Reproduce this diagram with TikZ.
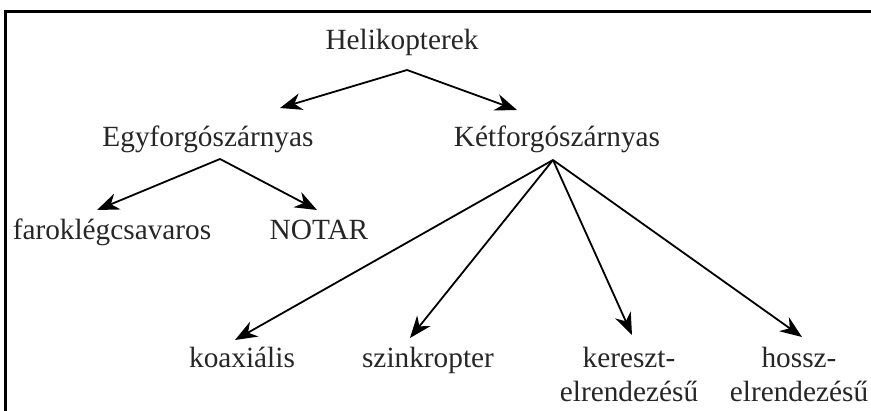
\documentclass[tikz,border=0pt]{standalone}
\usepackage{fontspec}
\setmainfont{Liberation Serif}
\usetikzlibrary{arrows.meta,calc}
\begin{document}
\begin{tikzpicture}[x=1pt,y=-1pt,
  lbl/.style={anchor=base,inner sep=0pt,align=center,
    font=\fontsize{29.3}{34}\selectfont,text=black!85},
  arr/.style={line width=1.8pt,-{Stealth[length=22pt,width=17pt,inset=7pt]}}]
\useasboundingbox (0,0) rectangle (871,411);
\begin{scope}
\clip (0,0) rectangle (871,411);
\draw[line width=3pt] (5,420) -- (5,12) -- (880,12);
\end{scope}

% tree labels (two-line labels are placed by their last baseline)
\node[lbl] (hel)   at (402,50)  {Helikopterek};
\node[lbl] (egy)   at (208,147) {Egyforgószárnyas};
\node[lbl] (ket)   at (557,147) {Kétforgószárnyas};
\node[lbl] (faro)  at (112,240) {faroklégcsavaros};
\node[lbl] (notar) at (319,240) {NOTAR};
\node[lbl] (koax)  at (242,368) {koaxiális};
\node[lbl] (szink) at (428,368) {szinkropter};
\node[lbl] (ker)   at (629,402) {kereszt-\\elrendezésű};
\node[lbl] (hossz) at (799,402) {hossz-\\elrendezésű};

% connectors
\draw[arr] ($(hel.base)+(5,20)$) -- ($(egy.base)+(72,-39)$);
\draw[arr] ($(hel.base)+(5,20)$) -- ($(ket.base)+(-40,-37)$);
\draw[arr] ($(egy.base)+(12,12)$) -- ($(faro.base)+(-15,-30)$);
\draw[arr] ($(egy.base)+(12,12)$) -- ($(notar.base)+(-2,-30)$);
\draw[arr] ($(ket.base)+(-4,13)$) -- ($(koax.base)+(-7,-28)$);
\draw[arr] ($(ket.base)+(-4,13)$) -- ($(szink.base)+(-18,-30)$);
\draw[arr] ($(ket.base)+(-4,13)$) -- ($(ker.base)+(3,-67)$);
\draw[arr] ($(ket.base)+(-4,13)$) -- ($(hossz.base)+(3,-65)$);
\end{tikzpicture}
\end{document}
